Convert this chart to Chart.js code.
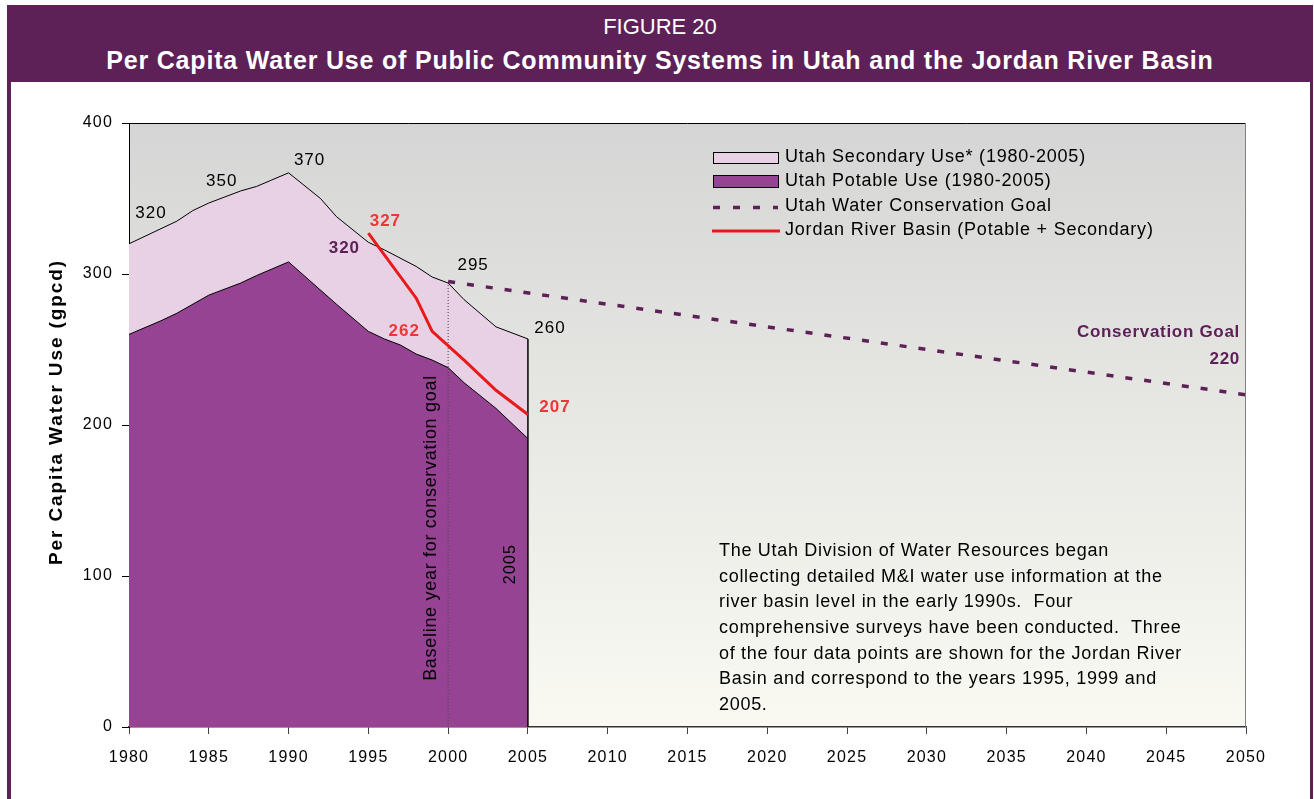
<!DOCTYPE html>
<html>
<head>
<meta charset="utf-8">
<script src="https://cdn.jsdelivr.net/npm/chart.js@4"></script>
<style>
  body { margin: 0; background: #fff; font-family: "Liberation Sans", Arial, sans-serif; }
  #wrap { position: relative; width: 1314px; height: 799px; overflow: hidden; }
  #chartBox { position: absolute; left: 0; top: 0; width: 1314px; height: 799px; }
  #header {
    position: absolute; left: 7px; top: 5px; width: 1306px; height: 77px;
    background: #5e2157; color: #fff; text-align: center;
  }
  #header .fig { font-size: 22px; line-height: 22px; padding-top: 11px; }
  #header .ttl { font-size: 25px; font-weight: bold; line-height: 25px; padding-top: 10px; letter-spacing: 0.8px; }
  .side { position: absolute; top: 5px; width: 4px; height: 800px; background: #5e2157; }
</style>
</head>
<body>
<div id="wrap">
  <div id="chartBox"><canvas id="waterChart"></canvas></div>
  <div class="side" style="left:7px"></div>
  <div class="side" style="left:1310px;width:3px"></div>
  <div id="header">
    <div class="fig">FIGURE 20</div>
    <div class="ttl">Per Capita Water Use of Public Community Systems in Utah and the Jordan River Basin</div>
  </div>
</div>
<script>
var totalYears = [1980, 1983, 1984, 1985, 1987, 1988, 1990, 1992, 1993, 1995, 1996, 1998, 1999, 2000, 2001, 2002, 2003, 2005];
var totalUse   = [320, 335, 342, 347, 355, 358, 367, 350, 338, 321, 316, 305, 298, 294, 283, 274, 265, 257];

// Utah potable use
var potableYears = [1980, 1982, 1983, 1985, 1987, 1988, 1990, 1993, 1995, 1996, 1997, 1998, 1999, 2000, 2001, 2003, 2005];
var potableUse   = [260, 269, 274, 286, 294, 299, 308, 280, 262, 257, 253, 247, 243, 238, 228, 211, 191];

// Jordan River Basin (potable + secondary)
var jordanYears = [1995, 1998, 1999, 2001, 2003, 2005];
var jordanUse   = [327, 284, 262, 243, 223, 207];

// Utah water conservation goal
var goalYears = [2000, 2050];
var goalUse   = [295, 220];

var xTicks = [1980, 1985, 1990, 1995, 2000, 2005, 2010, 2015, 2020, 2025, 2030, 2035, 2040, 2045, 2050];
var yTicks = [0, 100, 200, 300, 400];

var baseYear = 2000;

var legendItems = [
  "Utah Secondary Use* (1980-2005)",
  "Utah Potable Use (1980-2005)",
  "Utah Water Conservation Goal",
  "Jordan River Basin (Potable + Secondary)"
];

var noteLines = [
  "The Utah Division of Water Resources began",
  "collecting detailed M&I water use information at the",
  "river basin level in the early 1990s.  Four",
  "comprehensive surveys have been conducted.  Three",
  "of the four data points are shown for the Jordan River",
  "Basin and correspond to the years 1995, 1999 and",
  "2005."
];

var PURPLE = "#954392";
var PINK = "#e8d1e5";
var GOAL = "#5e2157";
var RED = "#e81a1a";
var RED_TXT = "#ee3636";
var FONT = "'Liberation Sans', Arial, sans-serif";

function pts(xs, ys) {
  var out = [];
  for (var i = 0; i < xs.length; i++) out.push({x: xs[i], y: ys[i]});
  return out;
}

var lastYear = totalYears[totalYears.length - 1];
var lastTotal = totalUse[totalUse.length - 1];
var baseTotal = totalUse[totalYears.indexOf(baseYear)];

// value labels: anchor (year, value) + pixel nudge
var valueLabels = [
  {x: 1980, y: 320, dx: 22, dy: -30, t: "320", c: "#000", b: false},
  {x: 1985, y: 347, dx: 13, dy: -22, t: "350", c: "#000", b: false},
  {x: 1990, y: 367, dx: 21, dy: -13, t: "370", c: "#000", b: false},
  {x: 2000, y: 294, dx: 25, dy: -18, t: "295", c: "#000", b: false},
  {x: 2005, y: 257, dx: 22, dy: -11, t: "260", c: "#000", b: false},
  {x: 1995, y: 327, dx: 17, dy: -12, t: "327", c: RED_TXT, b: true},
  {x: 1995, y: 321, dx: -24, dy: 6, t: "320", c: GOAL, b: true},
  {x: 1999, y: 262, dx: -28, dy: 0, t: "262", c: RED_TXT, b: true},
  {x: 2005, y: 207, dx: 27, dy: -7, t: "207", c: RED_TXT, b: true}
];

var decorPlugin = {
  id: "decor",
  beforeDraw: function(chart) {
    var a = chart.chartArea, ctx = chart.ctx;
    // source text is set a touch wide; tick labels get a little spacing
    ctx.letterSpacing = "1.2px";
    var g = ctx.createLinearGradient(0, a.top, 0, a.bottom);
    g.addColorStop(0, "#d5d5d5");
    g.addColorStop(1, "#fafaf3");
    ctx.save();
    ctx.fillStyle = g;
    ctx.fillRect(a.left, a.top, a.right - a.left, a.bottom - a.top);
    ctx.restore();
  },
  afterDraw: function(chart) {
    var a = chart.chartArea, ctx = chart.ctx;
    var xs = chart.scales.x, ys = chart.scales.y;
    ctx.save();
    // top and right frame of plot area
    ctx.lineWidth = 1;
    ctx.strokeStyle = "#000";
    ctx.beginPath(); ctx.moveTo(a.left, a.top + 0.5); ctx.lineTo(a.right, a.top + 0.5); ctx.stroke();
    ctx.strokeStyle = "#808080";
    ctx.beginPath(); ctx.moveTo(a.right - 0.5, a.top); ctx.lineTo(a.right - 0.5, a.bottom); ctx.stroke();

    // y axis title
    ctx.save();
    ctx.translate(57, 412);
    ctx.rotate(-Math.PI / 2);
    ctx.font = "bold 19px " + FONT;
    ctx.letterSpacing = "1.9px";
    ctx.fillStyle = "#000";
    ctx.textAlign = "center";
    ctx.textBaseline = "middle";
    ctx.fillText("Per Capita Water Use (gpcd)", 0, 0);
    ctx.restore();

    // value labels
    ctx.letterSpacing = "1px";
    ctx.textAlign = "center";
    ctx.textBaseline = "middle";
    valueLabels.forEach(function(l) {
      ctx.font = (l.b ? "bold " : "") + "17px " + FONT;
      ctx.fillStyle = l.c;
      ctx.fillText(l.t, xs.getPixelForValue(l.x) + l.dx, ys.getPixelForValue(l.y) + l.dy);
    });

    // conservation goal label
    ctx.letterSpacing = "0.7px";
    ctx.font = "bold 17px " + FONT;
    ctx.fillStyle = GOAL;
    ctx.textAlign = "right";
    var gx = xs.getPixelForValue(goalYears[1]) - 6;
    var gy = ys.getPixelForValue(goalUse[1]);
    ctx.fillText("Conservation Goal", gx, gy - 62);
    ctx.fillText(String(goalUse[1]), gx, gy - 35);

    // rotated notes
    ctx.fillStyle = "#000";
    ctx.font = "18px " + FONT;
    ctx.letterSpacing = "0.7px";
    ctx.textAlign = "center";
    ctx.save();
    ctx.translate(xs.getPixelForValue(baseYear) - 17, 528);
    ctx.rotate(-Math.PI / 2);
    ctx.fillText("Baseline year for conservation goal", 0, 0);
    ctx.restore();
    ctx.save();
    ctx.font = "16px " + FONT;
    ctx.letterSpacing = "1.2px";
    ctx.translate(xs.getPixelForValue(lastYear) - 17, 564);
    ctx.rotate(-Math.PI / 2);
    ctx.fillText("2005", 0, 0);
    ctx.restore();

    // note paragraph
    ctx.textAlign = "left";
    noteLines.forEach(function(t, i) {
      ctx.fillText(t, 719, 551 + i * 25.7);
    });

    // legend
    var lx = 713, lw = 65;
    ctx.lineWidth = 1;
    ctx.strokeStyle = "#000";
    ctx.fillStyle = PINK;
    ctx.fillRect(lx, 152, lw, 11);
    ctx.strokeRect(lx + 0.5, 152.5, lw, 11);
    ctx.fillStyle = PURPLE;
    ctx.fillRect(lx, 175, lw, 12);
    ctx.strokeRect(lx + 0.5, 175.5, lw, 12);
    ctx.strokeStyle = GOAL;
    ctx.lineWidth = 3.5;
    ctx.setLineDash([7, 13]);
    ctx.beginPath(); ctx.moveTo(lx, 207.5); ctx.lineTo(lx + lw, 207.5); ctx.stroke();
    ctx.setLineDash([]);
    ctx.strokeStyle = RED;
    ctx.lineWidth = 3;
    ctx.beginPath(); ctx.moveTo(lx - 1, 231); ctx.lineTo(lx + lw + 2, 231); ctx.stroke();
    ctx.fillStyle = "#000";
    ctx.font = "18px " + FONT;
    ctx.letterSpacing = "0.8px";
    ctx.textBaseline = "middle";
    var ly = [157, 181, 206, 230];
    legendItems.forEach(function(t, i) { ctx.fillText(t, 785, ly[i]); });
    ctx.restore();
  }
};

var ctx = document.getElementById("waterChart");
var waterChart = new Chart(ctx, {
  type: "line",
  data: {
    datasets: [
      {
        label: legendItems[3],
        data: pts(jordanYears, jordanUse),
        borderColor: RED, borderWidth: 3, pointRadius: 0, fill: false, tension: 0
      },
      {
        label: legendItems[2],
        data: pts(goalYears, goalUse),
        borderColor: GOAL, borderWidth: 3.5, borderDash: [7, 12], borderCapStyle: "butt",
        pointRadius: 0, fill: false
      },
      {
        label: "baseline",
        data: [{x: baseYear, y: 0}, {x: baseYear, y: baseTotal}],
        borderColor: "#444", borderWidth: 1, borderDash: [1, 2], pointRadius: 0, fill: false
      },
      {
        label: "edge",
        data: [{x: lastYear, y: 0}, {x: lastYear, y: lastTotal}],
        borderColor: "#000", borderWidth: 1.5, pointRadius: 0, fill: false
      },
      {
        label: legendItems[1],
        data: pts(potableYears, potableUse),
        borderColor: "#000", borderWidth: 1, backgroundColor: PURPLE,
        pointRadius: 0, fill: "origin", tension: 0
      },
      {
        label: legendItems[0],
        data: pts(totalYears, totalUse),
        borderColor: "#000", borderWidth: 1, backgroundColor: PINK,
        pointRadius: 0, fill: "origin", tension: 0
      }
    ]
  },
  options: {
    responsive: true,
    maintainAspectRatio: false,
    animation: false,
    layout: { padding: { top: 123, right: 68, left: 0, bottom: 0 } },
    plugins: { legend: { display: false }, tooltip: { enabled: false } },
    scales: {
      x: {
        type: "linear", min: xTicks[0], max: xTicks[xTicks.length - 1],
        afterBuildTicks: function(s) { s.ticks = xTicks.map(function(v) { return {value: v}; }); },
        afterFit: function(s) { s.height = 72; },
        grid: { drawOnChartArea: false, tickLength: 7, color: "#444" },
        border: { color: "#333", width: 1.5 },
        ticks: {
          color: "#000", padding: 14, maxRotation: 0,
          font: { family: FONT, size: 16 },
          callback: function(v) { return String(v); }
        }
      },
      y: {
        min: yTicks[0], max: yTicks[yTicks.length - 1],
        afterBuildTicks: function(s) { s.ticks = yTicks.map(function(v) { return {value: v}; }); },
        afterFit: function(s) { s.width = 129; },
        grid: { drawOnChartArea: false, tickLength: 7, color: "#000" },
        border: { color: "#000", width: 1 },
        ticks: {
          color: "#000", padding: 9,
          font: { family: FONT, size: 16 },
          callback: function(v) { return String(v); }
        }
      }
    }
  },
  plugins: [decorPlugin]
});
</script>
</body>
</html>
